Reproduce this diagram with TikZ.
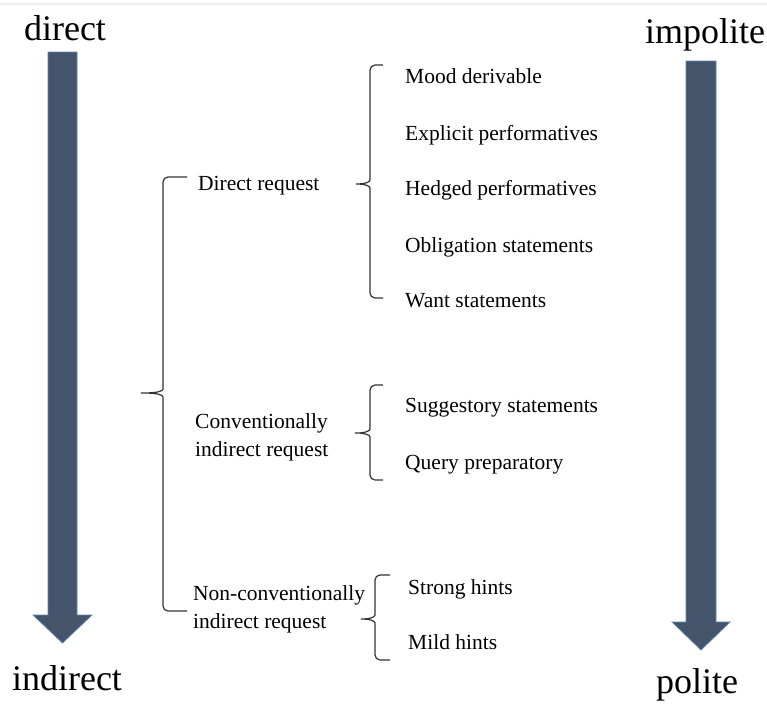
\documentclass[tikz,border=0pt]{standalone}
\usepackage{fontspec}
\setmainfont{Liberation Serif}
\usetikzlibrary{positioning}

\definecolor{arrowfill}{RGB}{68,84,106}
\definecolor{arrowedge}{RGB}{96,130,180}

\tikzset{
  bigword/.style={font=\fontsize{36}{40}\selectfont, inner sep=0pt, anchor=base},
  item/.style={font=\fontsize{21.5}{28}\selectfont, inner sep=0pt, anchor=base west, align=left},
  bracket/.style={draw=black!80, line width=1.2pt, rounded corners=5pt},
  bigarrow/.style={fill=arrowfill, draw=arrowedge, line width=0.7pt},
}

% brace: x of spine, top, middle, bottom, x of tip, x of ticks
\newcommand{\reqbrace}[6]{%
  \draw[bracket] (#6,#2) -- (#1,#2) -- (#1,#3-9)
    .. controls (#1,#3-2) and (#1-5,#3) .. (#5,#3)
    .. controls (#1-5,#3) and (#1,#3+2) .. (#1,#3+9)
    -- (#1,#4) -- (#6,#4);}

\begin{document}
\begin{tikzpicture}[x=1pt,y=-1pt]
  \useasboundingbox (0,0) rectangle (767,704);
  \draw[black!7, line width=1.5pt] (0,4) -- (767,4);

  % scale arrows
  \draw[bigarrow] (48,52) -- (77,52) -- (77,615) -- (92,615) -- (62.5,643)
    -- (33,615) -- (48,615) -- cycle;
  \draw[bigarrow] (686,61) -- (716,61) -- (716,622) -- (730,622) -- (701,650)
    -- (672,622) -- (686,622) -- cycle;

  \node[bigword] (direct) at (65,40) {direct};
  \node[bigword] (indirect) at (67,690) {indirect};
  \node[bigword] (impolite) at (705,43) {impolite};
  \node[bigword] (polite) at (697,693) {polite};

  % request types
  \reqbrace{163}{177}{393}{611}{138}{187}
  \node[item] (dr) at (198,190) {Direct request};
  \node[item] (cir) at (195,456) {Conventionally\\indirect request};
  \node[item] (ncir) at (193,628) {Non-conventionally\\indirect request};

  % strategies
  \reqbrace{370}{65}{184}{298}{353}{383}
  \node[item] (mood) at (405,83) {Mood derivable};
  \node[item] (expl) at (405,140) {Explicit performatives};
  \node[item] (hedg) at (405,195) {Hedged performatives};
  \node[item] (obl) at (405,252) {Obligation statements};
  \node[item] (want) at (405,307) {Want statements};

  \reqbrace{370}{385}{433}{480}{352}{383}
  \node[item] (sugg) at (405,412) {Suggestory statements};
  \node[item] (query) at (405,469) {Query preparatory};

  \reqbrace{375}{575}{619}{660}{358}{390}
  \node[item] (strong) at (408,594) {Strong hints};
  \node[item] (mild) at (408,649) {Mild hints};
\end{tikzpicture}
\end{document}
